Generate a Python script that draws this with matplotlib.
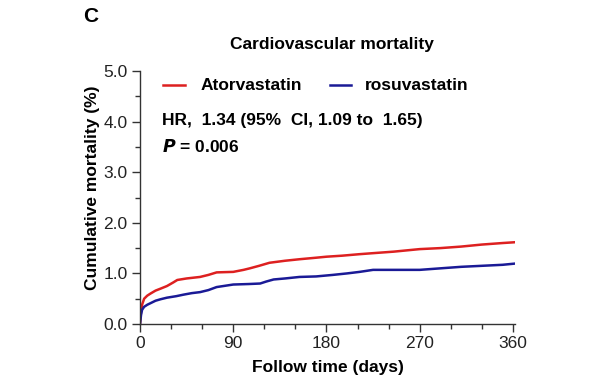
import matplotlib
matplotlib.use("Agg")
import matplotlib.pyplot as plt
from matplotlib.ticker import MultipleLocator

plt.rcParams.update({"font.family": ["Liberation Sans", "DejaVu Sans"]})

# cumulative mortality (%)
days_ator = [0, 1, 2, 4, 7, 10, 15, 20, 26, 32, 36, 45, 58, 66, 74, 90, 100, 106,
             115, 125, 140, 154, 170, 180, 195, 212, 225, 245, 270, 290, 310, 330, 350, 365]
mort_ator = [0.0, 0.25, 0.38, 0.50, 0.56, 0.60, 0.66, 0.70, 0.75, 0.82, 0.87, 0.90, 0.93, 0.97, 1.02, 1.03, 1.07, 1.10,
             1.15, 1.21, 1.25, 1.28, 1.31, 1.33, 1.35, 1.38, 1.40, 1.43, 1.48, 1.50, 1.53, 1.57, 1.60, 1.62]
days_rosu = [0, 1, 2, 4, 7, 10, 15, 20, 26, 35, 42, 50, 58, 66, 74, 90, 105, 116,
             122, 129, 140, 154, 170, 186, 200, 212, 225, 245, 270, 290, 310, 330, 350, 365]
mort_rosu = [0.0, 0.18, 0.28, 0.34, 0.38, 0.41, 0.46, 0.49, 0.52, 0.55, 0.58, 0.61, 0.63, 0.67, 0.73, 0.78, 0.79, 0.80,
             0.84, 0.88, 0.90, 0.93, 0.94, 0.97, 1.00, 1.03, 1.07, 1.07, 1.07, 1.10, 1.13, 1.15, 1.17, 1.20]

red = "#dd2020"
blue = "#1a1a96"
fs = 12.5

fig = plt.figure(figsize=(6.01, 3.79), dpi=100)
ax = fig.add_axes([140 / 601, 1 - 324 / 379, 375 / 601, 253 / 379])

ax.plot(days_ator, mort_ator, color=red, lw=1.8)
ax.plot(days_rosu, mort_rosu, color=blue, lw=1.8)

ax.set_xlim(0, 362)
ax.set_ylim(0, 5)
ax.spines["top"].set_visible(False)
ax.spines["right"].set_visible(False)
for s in ("left", "bottom"):
    ax.spines[s].set_color("#333333")
    ax.spines[s].set_linewidth(1.0)
ax.xaxis.set_major_locator(MultipleLocator(90))
ax.xaxis.set_minor_locator(MultipleLocator(30))
ax.yaxis.set_minor_locator(MultipleLocator(0.5))
ax.set_yticks([0, 1, 2, 3, 4, 5])
ax.set_yticklabels(["0.0", "1.0", "2.0", "3.0", "4.0", "5.0"])
ax.tick_params(which="major", length=6, width=1.0, color="#333333", labelsize=12.5,
               labelcolor="#222222", pad=3)
ax.tick_params(which="minor", length=3.5, width=1.0, color="#333333")

ax.set_xlabel("Follow time (days)", fontsize=12.5, fontweight="bold", labelpad=6)
ax.set_ylabel("Cumulative mortality (%)", fontsize=12.5, fontweight="bold")
ax.yaxis.set_label_coords(-0.107, 0.54)

fig.text(332 / 601, 1 - 45 / 379, "Cardiovascular mortality", ha="center", va="center",
         fontsize=12.5, fontweight="bold")
fig.text(83 / 601, 1 - 17 / 379, "C", ha="left", va="center", fontsize=15, fontweight="bold")

# legend
ax.plot([22, 43], [4.72, 4.72], color=red, lw=1.8)
ax.text(58, 4.72, "Atorvastatin", va="center", fontsize=fs, fontweight="bold")
ax.plot([183, 204], [4.72, 4.72], color=blue, lw=1.8)
ax.text(217, 4.72, "rosuvastatin", va="center", fontsize=fs, fontweight="bold")

ax.text(21, 4.03, "HR,  1.34 (95%  CI, 1.09 to  1.65)", va="center", fontsize=fs, fontweight="bold")
ax.text(21, 3.50, "$\\bfit{P}$ = 0.006", va="center", fontsize=fs, fontweight="bold")

fig.savefig("out.png", dpi=100)
